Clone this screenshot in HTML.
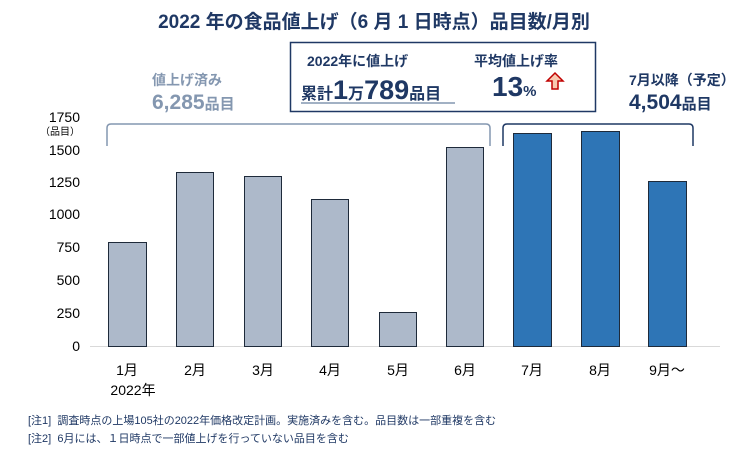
<!DOCTYPE html>
<html><head><meta charset="utf-8"><style>
body{margin:0;background:#fff;}
svg text{font-family:"Liberation Sans","Noto Sans CJK JP",sans-serif;}
</style></head><body>
<svg width="748" height="450" viewBox="0 0 748 450" xmlns="http://www.w3.org/2000/svg">
<text x="374" y="28" text-anchor="middle" font-size="19" font-weight="bold" fill="#1f3864">2022 年の食品値上げ（6 月 1 日時点）品目数/月別</text>
<rect x="290.5" y="42.5" width="305" height="69" fill="#fff" stroke="#1f3864" stroke-width="1.5"/>
<text x="307" y="66" font-size="14" font-weight="bold" fill="#1f3864">2022年に値上げ</text>
<text x="301" y="99" font-size="16" font-weight="bold" fill="#1f3864">累計<tspan font-size="27">1</tspan>万<tspan font-size="27">789</tspan>品目</text>
<line x1="301" y1="103" x2="455" y2="103" stroke="#8497b0" stroke-width="1.5"/>
<text x="474" y="66" font-size="14" font-weight="bold" fill="#1f3864">平均値上げ率</text>
<text x="492" y="96" font-size="28" font-weight="bold" fill="#1f3864">13<tspan font-size="15">%</tspan></text>
<path d="M552 89 L552 81 L547 81 L555 73 L563 81 L558 81 L558 89 Z" fill="#f8c8b0" stroke="#c00000" stroke-width="1.5"/>
<text x="152" y="85" font-size="14" font-weight="bold" fill="#8497b0">値上げ済み</text>
<text x="152" y="109" font-size="21" font-weight="bold" fill="#8497b0">6,285<tspan font-size="15">品目</tspan></text>
<text x="629" y="85" font-size="14" font-weight="bold" fill="#1f3864">7月以降（予定）</text>
<text x="629" y="109" font-size="21" font-weight="bold" fill="#1f3864">4,504<tspan font-size="15">品目</tspan></text>
<path d="M107 146 L107 128 Q107 124 111 124 L486 124 Q490 124 490 128 L490 146" fill="none" stroke="#8497b0" stroke-width="1.5"/>
<path d="M503 146 L503 128 Q503 124 507 124 L689 124 Q693 124 693 128 L693 146" fill="none" stroke="#1f3864" stroke-width="1.5"/>
<g font-size="14" fill="#000" text-anchor="end">
<text x="80" y="122">1750</text>
<text x="80" y="135" font-size="10">（品目）</text>
<text x="80" y="155">1500</text>
<text x="80" y="187">1250</text>
<text x="80" y="219">1000</text>
<text x="80" y="252">750</text>
<text x="80" y="285">500</text>
<text x="80" y="318">250</text>
<text x="80" y="351">0</text>
</g>
<line x1="90" y1="346.5" x2="720" y2="346.5" stroke="#d9d9d9" stroke-width="1"/>
<g stroke="#1e2a3a" stroke-width="1">
<rect x="108.5" y="242.5" width="38" height="104" fill="#adb9ca"/>
<rect x="176.5" y="172.5" width="37" height="174" fill="#adb9ca"/>
<rect x="244.5" y="176.5" width="37" height="170" fill="#adb9ca"/>
<rect x="311.5" y="199.5" width="37" height="147" fill="#adb9ca"/>
<rect x="379.5" y="312.5" width="37" height="34" fill="#adb9ca"/>
<rect x="446.5" y="147.5" width="37" height="199" fill="#adb9ca"/>
<rect x="513.5" y="133.5" width="38" height="213" fill="#2e75b6"/>
<rect x="581.5" y="131.5" width="38" height="215" fill="#2e75b6"/>
<rect x="648.5" y="181.5" width="38" height="165" fill="#2e75b6"/>
</g>
<g font-size="14" fill="#000" text-anchor="middle">
<text x="127" y="375">1月</text>
<text x="195" y="375">2月</text>
<text x="263" y="375">3月</text>
<text x="330" y="375">4月</text>
<text x="398" y="375">5月</text>
<text x="465" y="375">6月</text>
<text x="532" y="375">7月</text>
<text x="600" y="375">8月</text>
<text x="667" y="375">9月～</text>
<text x="133" y="395">2022年</text>
</g>
<text x="28" y="424" font-size="11" fill="#1f3864" xml:space="preserve">[注1]  調査時点の上場105社の2022年価格改定計画。実施済みを含む。品目数は一部重複を含む</text>
<text x="28" y="442" font-size="11" fill="#1f3864" xml:space="preserve">[注2]  6月には、１日時点で一部値上げを行っていない品目を含む</text>
</svg>
</body></html>
